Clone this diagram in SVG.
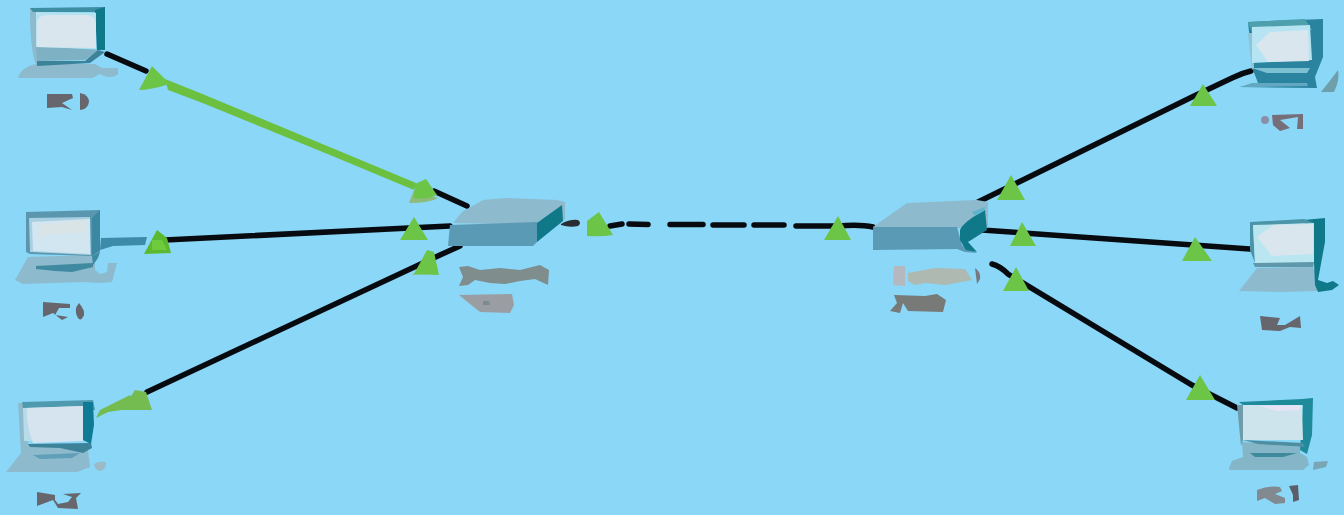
<svg xmlns="http://www.w3.org/2000/svg" width="1344" height="515" viewBox="0 0 1344 515">
<style>
.wire{fill:none;stroke:#070b10;stroke-width:5.500;stroke-linecap:round}
.tri{fill:#6cc546}
.base{fill:#8dbacd}
.inner{fill:#d9e6ee}
.dark{fill:#0f7889}
.mid{fill:#3c8299}
.lbl{fill:#66666c}
</style>
<rect width="1344" height="515" fill="#8ad7f8"/>
<g id="connectors">
<path class="wire" d="M107,54L146,71"/>
<path d="M165,79L200,93L416,183L414,190L330,155L200,102L168,90Z" fill="#6cc040"/>
<path class="wire" d="M434,191L467,206"/>
<path d="M101,238L147,237L145,245L113,246L100,250Z" fill="#3c8ba8"/>
<path class="wire" d="M165,240L450,226"/>
<path d="M96,418L100,410L130,395L135,408L108,412Z" fill="#74bc50"/>
<path class="wire" d="M147,392L440,255L460,246"/>
<path d="M561,224Q570,219 578,220Q582,223 578,226Q570,228 561,225Z" fill="#2a2c33"/>
<path class="wire" d="M610,226L622,224M629,224L648,224.500M670,224.500L703,224.500M713,225L744,225M754,225L784,225M796,226L820,226M820,226L838,226M838,226Q860,224 873,227"/>
<path class="wire" d="M978,202L1192,97L1232,78Q1242,73 1251,71"/>
<path class="wire" d="M982,230L1250,249"/>
<path class="wire" d="M992,264Q1000,266 1008,274L1192,385L1237,408"/>
</g>
<g id="markers">
<path class="tri" d="M139,90L152,66L170,84Q150,90 139,90Z"/>
<path d="M409,203L414,190L438,198Q430,203 409,203Z" fill="#8dbb7a"/>
<path class="tri" d="M414,198L415,184L426,179L437,195Q425,200 414,198Z"/>
<path d="M144,254L157,230L167,238L171,253Z" fill="#5cb82f"/>
<path d="M152,240L162,240L167,250L152,250Z" fill="#6fcb3e"/>
<path class="tri" d="M400,240L414,217L428,240Z"/>
<path d="M122,410L135,390L146,392L152,410Z" fill="#74bc50"/>
<path d="M412,275L423,266L434,274Z" fill="#8dbb7a"/>
<path class="tri" d="M414,274L427,250L434,252L439,275Z"/>
<path d="M587,236L587,221L599,212L613,235Q600,237 587,236Z" class="tri"/>
<path class="tri" d="M824,240L838,216L851,240Z"/>
<path class="tri" d="M997,200L1011,175L1025,200Z"/>
<path class="tri" d="M1190,106L1203,84L1217,106Z"/>
<path class="tri" d="M1010,246L1022,222L1036,246Z"/>
<path class="tri" d="M1182,261L1195,237L1212,261Z"/>
<path class="tri" d="M1003,291L1016,267L1029,291Z"/>
<path class="tri" d="M1186,400L1200,375L1215,400Z"/>
</g>
<g id="pc-top-left">
<path class="base" d="M18,78C20,70 28,65 37,64L95,64L102,68L118,68L118,74C114,78 106,78 100,74L92,78Z"/>
<path class="base" d="M30,8L40,8L40,60L36,65Q30,50 30,8Z"/>
<path fill="#7fb1c4" d="M36,46L100,50L85,60L37,61Z"/>
<path fill="#3d8ea3" d="M30,8L105,7L105,12L33,12Z"/>
<path class="dark" d="M95,10L105,7L105,50L97,50Z"/>
<path fill="#b5e2f0" d="M36,12L96,13L96,49L36,47Z"/>
<path class="inner" d="M37,22Q38,15 48,15L85,15Q96,15 96,25L96,48L37,47Z"/>
<path class="mid" d="M37,61L85,61L98,50L105,52L90,63L37,66Z"/>
</g>
<g id="pc-mid-left">
<path class="base" d="M15,280L28,257L95,255L95,270L100,274L107,272L108,263L117,263L112,282L100,283L83,282L23,284Z"/>
<path fill="#5a96ad" d="M26,212L100,210L100,252L92,256L30,254L26,252Z"/>
<path fill="#3c88a3" d="M92,218L100,210L100,250L92,256Z"/>
<path fill="#a9d0e2" d="M29,218L90,217L91,255L30,252Z"/>
<path fill="#d2e6f2" d="M32,222L90,219L90,254L33,251Z"/>
<path fill="#d9e4e6" d="M40,225L85,220L86,233L47,234L40,240Z"/>
<path fill="#3f89a1" d="M36,266L93,263L93,267L72,272L55,271L36,269Z"/>
<path fill="#3f89a1" d="M92,256L100,252L98,258L93,265Z"/>
</g>
<g id="pc-bottom-left">
<path class="base" d="M6,472L21,453L18,403L28,403L28,444L88,450L90,467L77,472Z"/>
<path fill="#4f9aae" d="M22,402L93,400L95,410L23,408Z"/>
<path class="dark" d="M83,402L93,402L94,425L91,444L83,440Z" style="fill:#0f7a96"/>
<path fill="#b7dbe9" d="M23,408L83,406L83,441L24,441Z"/>
<path fill="#d6e4f0" d="M27,408L83,406L83,441L33,443Q26,425 27,408Z"/>
<path class="mid" d="M28,444L91,443L92,448L83,453L60,448L30,447Z"/>
<path fill="#5f9fb8" d="M33,455L80,453L72,458L40,459Z"/>
<path d="M94,464Q98,461 106,462Q106,470 100,471Q95,471 94,464Z" fill="#9cb9c8"/>
</g>
<g id="switch-left">
<path class="base" d="M453,223L462,212L483,200L507,198L557,200L565,202L565,220L537,225Z"/>
<path fill="#5a9ab5" d="M450,225L537,222L537,242L533,246L448,246Z"/>
<path class="dark" d="M537,223L562,205L563,221L537,242Z"/>
</g>
<g id="switch-right">
<path class="base" d="M873,227L907,203L977,200L988,202L988,228L960,228L957,228Z"/>
<path fill="#5a9ab5" d="M873,227L957,227L962,245L977,253L965,252L957,249L873,250Z"/>
<path class="dark" d="M960,230Q963,222 985,210L987,230L968,242L977,252L966,250L960,240Z"/>
<path fill="#5fb3cc" d="M972,212L985,207L984,211L975,216Z"/>
</g>
<g id="pc-top-right">
<path fill="#2a84a0" d="M1248,22L1323,19L1323,57L1315,77L1317,88L1240,87L1258,83L1253,70Z"/>
<path fill="#4ea0ad" d="M1248,22L1305,19L1312,30L1252,33Z"/>
<path fill="#8fc4d6" d="M1248,33L1253,33L1254,68L1252,70Z"/>
<path fill="#b7e4f2" d="M1252,27L1310,25L1312,60L1252,63Z"/>
<path class="inner" d="M1256,45L1270,32L1308,30L1309,61L1268,62Z"/>
<path fill="#7cc0d2" d="M1252,68L1310,68L1307,73L1267,73Z"/>
<path fill="#62a8c0" d="M1240,87L1252,83L1307,83L1308,86L1260,87Z"/>
<path d="M1321,92L1332,78L1338,70Q1340,80 1334,92Z" fill="#6e9faa"/>
</g>
<g id="pc-mid-right">
<path class="base" d="M1239,291L1257,268L1313,267L1318,277L1317,291L1280,292Z"/>
<path class="dark" d="M1304,220L1325,218L1325,242L1318,280L1327,283L1333,281L1339,285L1332,290L1318,292L1315,285L1314,262Z"/>
<path fill="#4c94a8" d="M1250,222L1304,219L1314,223L1253,226L1255,263L1250,250Z"/>
<path fill="#b9e6f0" d="M1253,225L1314,223L1314,263L1255,263Z"/>
<path class="inner" d="M1257,237L1273,225L1313,224L1313,254L1272,256Z"/>
<path fill="#5f98aa" d="M1253,263L1314,262L1313,267L1255,267Z"/>
</g>
<g id="pc-bottom-right">
<path fill="#84b6c8" d="M1229,468L1232,461L1243,457L1242,442L1300,447L1300,453L1307,457L1309,465L1303,470L1230,470Z"/>
<path fill="#1f8a9a" d="M1239,402L1302,399L1313,398L1312,435L1307,454L1300,450L1303,405L1243,405Z"/>
<path fill="#6f9cab" d="M1237,405L1243,405L1243,440L1241,446Z"/>
<path fill="#cde4ed" d="M1243,405L1302,405L1303,440L1243,440Z"/>
<path fill="#e6e3f6" d="M1260,406L1300,405L1300,410L1277,411Z"/>
<path fill="#4f8ea0" d="M1243,440L1303,443L1305,447L1258,444Z"/>
<path fill="#3e8a9c" d="M1250,453L1297,453L1283,457L1255,457Z"/>
<path d="M1314,462L1328,461L1326,467L1313,470Z" fill="#7aa5b5"/>
</g>
<g id="labels">
<path class="lbl" d="M47,94L72,94L73,98L62,103L72,110L62,107L47,108Z"/>
<path class="lbl" d="M80,93Q89,95 89,102Q88,109 80,110Z"/>
<path class="lbl" d="M43,302L70,304L70,308L59,308L55,315L68,317L62,320L53,313L43,317Z"/>
<path class="lbl" d="M79,303Q85,310 84,315Q81,322 78,318Q73,310 79,303Z"/>
<path class="lbl" d="M37,492L55,495L55,500L58,504L68,502L72,497L63,494L81,493L76,498L78,509L58,508L53,500L37,506Z"/>
<circle cx="1265" cy="120" r="4" fill="#8a8ea8"/>
<path fill="#766e78" d="M1272,115L1303,114L1303,129L1297,129L1298,117L1280,120L1290,128L1280,131L1273,125Z"/>
<path class="lbl" d="M1260,316L1280,318L1277,325L1285,325L1300,316L1301,328L1290,327L1280,331L1262,330Z"/>
<path fill="#808a90" d="M1257,490Q1270,485 1280,487L1282,491L1275,494L1285,498L1285,503L1275,504L1265,498L1257,501Z"/>
<path fill="#5b5e68" d="M1289,486L1298,485L1299,500L1293,502L1293,495Z"/>
<path fill="#7f8d8c" d="M459,267L468,266L480,270L500,268L520,270L540,265L549,270L548,285L535,279L520,281L505,284L490,283L475,280L468,285L459,286L463,277Z"/>
<path fill="#9a9ea3" d="M459,295L512,294L514,305L510,313L480,312L470,304Z"/>
<path fill="#7d8a90" d="M483,301L489,301L490,305L483,305Z"/>
<path fill="#b5b8bf" d="M894,266L905,266L905,286L893,285Z"/>
<path fill="#aeb9b1" d="M908,273L935,268L965,269L972,280L945,285L925,283L915,285L908,281Z"/>
<path fill="#77787f" d="M975,268Q981,272 980,279L977,284Z"/>
<path fill="#777a76" d="M894,295L925,296L937,294L946,300L943,312L908,311L903,303L900,313L890,311L897,303Z"/>
</g>
</svg>
